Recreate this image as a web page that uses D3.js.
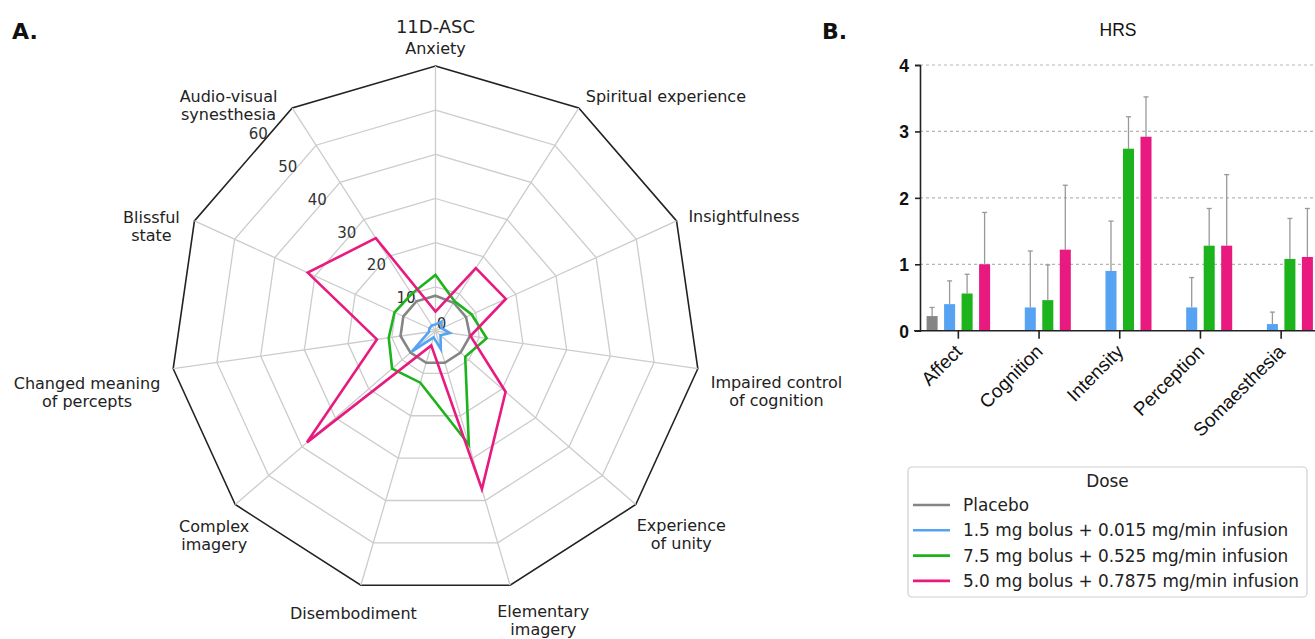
<!DOCTYPE html>
<html><head><meta charset="utf-8">
<script src="https://cdn.jsdelivr.net/npm/d3@7"></script>
<style>body{margin:0;background:#fff}svg{display:block}</style>
</head><body>
<svg id="chart" width="1315" height="639"></svg>
<script>
// ---------- Data: radar (11D-ASC) ----------
const radarAxes = ["Anxiety","Spiritual experience","Insightfulness","Impaired control\nof cognition","Experience\nof unity","Elementary\nimagery","Disembodiment","Complex\nimagery","Changed meaning\nof percepts","Blissful\nstate","Audio-visual\nsynesthesia"];
const radarTicks = [0,10,20,30,40,50,60];
const radarPlacebo = [8, 7.6, 7.6, 7.9, 7.5, 7.5, 7.5, 7.5, 8, 8, 8];
const radarLow = [1.5, 2.5, 1.5, 3.3, 1.5, 4.3, 1.5, 7.1, 1.5, 1.5, 1.5];
const radarMid = [12.7, 8, 9, 11.7, 8.9, 26.8, 12.2, 13, 10.7, 10.2, 10];
const radarHigh = [4.4, 16.9, 17.5, 8, 21, 37.3, 3.4, 38.5, 13.4, 31.8, 25];

// ---------- Data: bars (HRS) ----------
const hrsCategories = ["Affect","Cognition","Intensity","Perception","Somaesthesia"];
const hrsTicks = [0,1,2,3,4];
const hrsPlacebo = [0.22, 0, 0, 0, 0];
const hrsPlaceboErr = [0.35, 0, 0, 0, 0];
const hrsLow = [0.40, 0.35, 0.90, 0.35, 0.10];
const hrsLowErr = [0.75, 1.20, 1.65, 0.80, 0.28];
const hrsMid = [0.56, 0.46, 2.74, 1.28, 1.08];
const hrsMidErr = [0.85, 0.99, 3.22, 1.84, 1.69];
const hrsHigh = [1.00, 1.22, 2.92, 1.28, 1.11];
const hrsHighErr = [1.78, 2.19, 3.52, 2.35, 1.84];

const seriesNames = ["Placebo","1.5 mg bolus + 0.015 mg/min infusion","7.5 mg bolus + 0.525 mg/min infusion","5.0 mg bolus + 0.7875 mg/min infusion"];
const seriesColors = ["#858585","#55a3f2","#1cb31c","#e8197f"];

// label alignment (style): horizontal fraction of block left of anchor, vertical fraction above anchor
const labelHa = [0.5, 0, 0, 0, 0.1, 0.18, 0.53, 0.66, 1, 1.05, 1.08];
const labelVa = [0.64, 0.45, 0.36, -0.12, -0.14, -0.17, -0.46, -0.16, -0.15, 0.15, 0.23];

const svg = d3.select("#chart");
const dejavu = "'DejaVu Sans', sans-serif";
const arial = "'Liberation Sans', Arial, sans-serif";

// ================= Panel A: radar =================
const cx = 435.5, cy = 331, R = 265;
const rScale = d3.scaleLinear().domain([0, 60]).range([0, R]);
const n = radarAxes.length;
const angle = d3.scaleLinear().domain([0, n]).range([0, 2 * Math.PI]);
const gA = svg.append("g").attr("transform", `translate(${cx},${cy})`);

const ringLine = d3.lineRadial().angle((d, i) => angle(i)).radius(d => rScale(d)).curve(d3.curveLinearClosed);
radarTicks.slice(1).forEach(t => {
  gA.append("path").attr("d", ringLine(d3.range(n).map(() => t)))
    .attr("fill", "none")
    .attr("stroke", t === 60 ? "#222" : "#cccccc")
    .attr("stroke-width", t === 60 ? 1.6 : 1.3);
});
d3.range(n).forEach(i => {
  const a = angle(i);
  gA.append("line").attr("x1", 0).attr("y1", 0)
    .attr("x2", rScale(60) * Math.sin(a)).attr("y2", -rScale(60) * Math.cos(a))
    .attr("stroke", "#cccccc").attr("stroke-width", 1.3);
});
const tickAng = 318 * Math.PI / 180;
radarTicks.forEach(t => {
  const r = rScale(t);
  let x = r * Math.sin(tickAng), y = -r * Math.cos(tickAng);
  if (t === 0) { x = 6; y = -7; }
  gA.append("text").attr("x", x).attr("y", y + 5)
    .attr("text-anchor", "middle").attr("font-family", dejavu).attr("font-size", 15)
    .attr("fill", "#333").text(t);
});
const radarSeries = [radarPlacebo, radarMid, radarHigh, radarLow];
const radarColors = [seriesColors[0], seriesColors[2], seriesColors[3], seriesColors[1]];
radarSeries.forEach((s, k) => {
  gA.append("path").attr("d", ringLine(s)).attr("fill", "none")
    .attr("stroke", radarColors[k]).attr("stroke-width", 2.6).attr("stroke-linejoin", "miter");
});
const fsL = 16, lh = 18, Rl = 278;
radarAxes.forEach((lab, i) => {
  const a = angle(i);
  const ax = Rl * Math.sin(a), ay = -Rl * Math.cos(a);
  const lines = lab.split("\n");
  const t = gA.append("text").attr("font-family", dejavu).attr("font-size", fsL).attr("fill", "#222").attr("text-anchor", "middle");
  const tsp = lines.map(l => t.append("tspan").text(l));
  const w = d3.max(tsp, sp => sp.node().getComputedTextLength());
  const mx = ax - labelHa[i] * w + w / 2;
  const b0 = ay + 13 - labelVa[i] * lines.length * lh;
  tsp.forEach((sp, j) => sp.attr("x", mx).attr("y", b0 + j * lh));
});
svg.append("text").attr("x", cx).attr("y", 33).attr("text-anchor", "middle")
  .attr("font-family", dejavu).attr("font-size", 18).attr("fill", "#222").text("11D-ASC");
svg.append("text").attr("x", 12).attr("y", 39).attr("font-family", dejavu).attr("font-weight", "bold")
  .attr("font-size", 22).attr("fill", "#111").text("A.");

// ================= Panel B: bars =================
const x0 = 918, y0 = 330.7, y4 = 65;
const xB = d3.scaleBand().domain(hrsCategories).range([x0, x0 + hrsCategories.length * 80.7]).paddingInner(0).paddingOuter(0);
const xIn = d3.scaleBand().domain(d3.range(4)).range([-35, 35]).paddingInner(0.37).paddingOuter(0.185);
const yB = d3.scaleLinear().domain([0, 4]).range([y0, y4]);
const gB = svg.append("g");

hrsTicks.slice(1).forEach(t => {
  gB.append("line").attr("x1", 920).attr("x2", 1315).attr("y1", yB(t)).attr("y2", yB(t))
    .attr("stroke", "#b5b5b5").attr("stroke-width", 1.2).attr("stroke-dasharray", "3,3");
});
const vals = [hrsPlacebo, hrsLow, hrsMid, hrsHigh];
const errs = [hrsPlaceboErr, hrsLowErr, hrsMidErr, hrsHighErr];
hrsCategories.forEach((cat, ci) => {
  const cxb = xB(cat) + xB.bandwidth() / 2;
  vals.forEach((v, k) => {
    const val = v[ci];
    if (val <= 0) return;
    const bx = cxb + xIn(k);
    const bw = xIn.bandwidth();
    gB.append("line").attr("x1", bx + bw / 2).attr("x2", bx + bw / 2)
      .attr("y1", yB(val)).attr("y2", yB(errs[k][ci])).attr("stroke", "#999").attr("stroke-width", 1.3);
    gB.append("line").attr("x1", bx + bw / 2 - 2.5).attr("x2", bx + bw / 2 + 2.5)
      .attr("y1", yB(errs[k][ci])).attr("y2", yB(errs[k][ci])).attr("stroke", "#999").attr("stroke-width", 1.3);
    gB.append("rect").attr("x", bx).attr("width", bw).attr("y", yB(val)).attr("height", yB(0) - yB(val))
      .attr("fill", seriesColors[k]);
  });
});
const yAxis = d3.axisLeft(yB).tickValues(hrsTicks).tickSize(5).tickFormat(d3.format("d"));
const gy = svg.append("g").attr("transform", "translate(920,0)").call(yAxis);
gy.select(".domain").attr("stroke", "#222").attr("stroke-width", 1.6);
gy.selectAll(".tick line").attr("stroke", "#222").attr("stroke-width", 1.6);
gy.selectAll(".tick text").attr("font-family", arial).attr("font-weight", "bold").attr("font-size", 17.5)
  .attr("fill", "#111").attr("x", -11).attr("dy", "0.36em");
svg.append("line").attr("x1", 914).attr("x2", 1315).attr("y1", y0).attr("y2", y0)
  .attr("stroke", "#222").attr("stroke-width", 1.6);
hrsCategories.forEach(cat => {
  const tx = xB(cat) + xB.bandwidth() / 2;
  svg.append("line").attr("x1", tx).attr("x2", tx).attr("y1", y0).attr("y2", y0 + 8)
    .attr("stroke", "#222").attr("stroke-width", 1.6);
  svg.append("text").attr("transform", `translate(${tx + 5},${y0 + 22}) rotate(-45)`)
    .attr("text-anchor", "end").attr("font-family", arial).attr("font-size", 19).attr("fill", "#111").text(cat);
});
svg.append("text").attr("x", 1118).attr("y", 36).attr("text-anchor", "middle")
  .attr("font-family", arial).attr("font-size", 17.5).attr("fill", "#111").text("HRS");
svg.append("text").attr("x", 822).attr("y", 39).attr("font-family", dejavu).attr("font-weight", "bold")
  .attr("font-size", 22).attr("fill", "#111").text("B.");

// legend
const lg = svg.append("g").attr("transform", "translate(908,467)");
lg.append("rect").attr("width", 399).attr("height", 130).attr("rx", 4)
  .attr("fill", "#fff").attr("stroke", "#d0d0d0").attr("stroke-width", 1.2);
lg.append("text").attr("x", 199.5).attr("y", 20).attr("text-anchor", "middle")
  .attr("font-family", dejavu).attr("font-size", 16.9).attr("fill", "#222").text("Dose");
seriesNames.forEach((nm, k) => {
  const yy = 38 + k * 25.3;
  lg.append("line").attr("x1", 5).attr("x2", 42).attr("y1", yy).attr("y2", yy)
    .attr("stroke", seriesColors[k]).attr("stroke-width", 2.6);
  lg.append("text").attr("x", 55).attr("y", yy + 6).attr("font-family", dejavu).attr("font-size", 16.9)
    .attr("fill", "#222").text(nm);
});
</script>
</body></html>
